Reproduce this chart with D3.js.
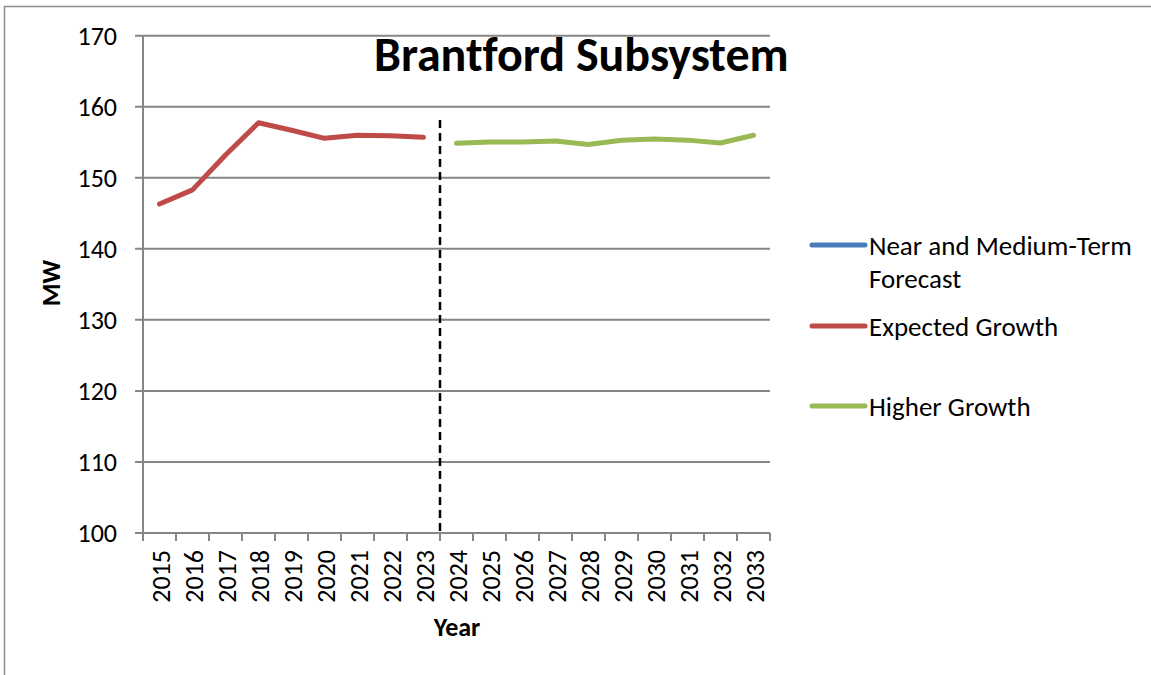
<!DOCTYPE html>
<html>
<head>
<meta charset="utf-8">
<script src="https://cdn.jsdelivr.net/npm/d3@7"></script>
<style>
  body { margin: 0; background: #fff; }
  svg { display: block; font-family: Carlito, Lato, "Open Sans", sans-serif; font-variant-ligatures: none; }
</style>
</head>
<body>
<script>
const years = [2015, 2016, 2017, 2018, 2019, 2020, 2021, 2022, 2023, 2024,
  2025, 2026, 2027, 2028, 2029, 2030, 2031, 2032, 2033];
const expectedYears = [2015, 2016, 2017, 2018, 2019, 2020, 2021, 2022, 2023];
const expectedValues = [146.3, 148.3, 153.2, 157.75, 156.7, 155.55, 156.0, 155.9, 155.7];
const higherYears = [2024, 2025, 2026, 2027, 2028, 2029, 2030, 2031, 2032, 2033];
const higherValues = [154.85, 155.04, 155.05, 155.18, 154.7, 155.27, 155.45, 155.3, 154.9, 155.98];
const yTicks = [100, 110, 120, 130, 140, 150, 160, 170];
const legendItems = [
  { label: ["Near and Medium-Term", "Forecast"], color: "#4a7ebb" },
  { label: ["Expected Growth"], color: "#be4b48" },
  { label: ["Higher Growth"], color: "#98b954" }
];

const W = 1151, H = 675;
const margin = { left: 143, right: 770, top: 35.7, bottom: 533 };
const GRID = "#868686";
const FS = 26;

const svg = d3.select("body").append("svg").attr("width", W).attr("height", H);

// outer frame (only top + left edges visible)
svg.append("path")
  .attr("d", `M4.5,${H} V6.5 H${W}`)
  .attr("fill", "none").attr("stroke", "#8c8c8c").attr("stroke-width", 1.5);

const x = d3.scaleBand().domain(years).range([margin.left, margin.right]);
const y = d3.scaleLinear().domain([100, 170]).range([margin.bottom, margin.top]);
const cx = (d) => x(d) + x.bandwidth() / 2;

// gridlines
svg.append("g").selectAll("line").data(yTicks).join("line")
  .attr("x1", margin.left - 8).attr("x2", margin.right)
  .attr("y1", (d) => y(d)).attr("y2", (d) => y(d))
  .attr("stroke", GRID).attr("stroke-width", 2);

// y axis line
svg.append("line")
  .attr("x1", margin.left).attr("x2", margin.left)
  .attr("y1", margin.top).attr("y2", margin.bottom)
  .attr("stroke", GRID).attr("stroke-width", 2);

// x ticks at category boundaries
const bounds = years.map((d) => x(d)).concat([margin.right]);
svg.append("g").selectAll("line").data(bounds).join("line")
  .attr("x1", (d) => d).attr("x2", (d) => d)
  .attr("y1", margin.bottom).attr("y2", margin.bottom + 8)
  .attr("stroke", GRID).attr("stroke-width", 2);

// y tick labels
svg.append("g").selectAll("text").data(yTicks).join("text")
  .attr("x", 117).attr("y", (d) => y(d))
  .attr("text-anchor", "end").attr("dominant-baseline", "central")
  .attr("font-size", FS).attr("fill", "#000")
  .text((d) => d);

// x tick labels (rotated)
svg.append("g").selectAll("text").data(years).join("text")
  .attr("transform", (d) => `translate(${cx(d) + 1},550) rotate(-90)`)
  .attr("text-anchor", "end").attr("dominant-baseline", "central")
  .attr("font-size", FS).attr("fill", "#000")
  .text((d) => d);

// axis titles
svg.append("text")
  .attr("x", 457).attr("y", 636)
  .attr("text-anchor", "middle").attr("font-weight", "bold").attr("font-size", FS)
  .text("Year");
svg.append("text")
  .attr("transform", "translate(60,283) rotate(-90)")
  .attr("text-anchor", "middle")
  .attr("font-weight", "bold").attr("font-size", FS)
  .text("MW");

// divider between history-based and later forecast
svg.append("line")
  .attr("x1", x(2024)).attr("x2", x(2024))
  .attr("y1", 120).attr("y2", margin.bottom)
  .attr("stroke", "#000").attr("stroke-width", 2.5)
  .attr("stroke-dasharray", "8,5");

const line = d3.line().x((d) => cx(d[0])).y((d) => y(d[1]));

svg.append("path")
  .datum(d3.zip(expectedYears, expectedValues))
  .attr("d", line).attr("fill", "none")
  .attr("stroke", legendItems[1].color).attr("stroke-width", 5)
  .attr("stroke-linecap", "round").attr("stroke-linejoin", "round");

svg.append("path")
  .datum(d3.zip(higherYears, higherValues))
  .attr("d", line).attr("fill", "none")
  .attr("stroke", legendItems[2].color).attr("stroke-width", 5)
  .attr("stroke-linecap", "round").attr("stroke-linejoin", "round");

// title
svg.append("text")
  .attr("x", 374).attr("y", 71)
  .attr("font-weight", "bold").attr("font-size", 48)
  .text("Brantford Subsystem");

// legend
const legendY = [245, 326, 406];
const lg = svg.append("g").selectAll("g").data(legendItems).join("g")
  .attr("transform", (d, i) => `translate(0,${legendY[i]})`);
lg.append("line")
  .attr("x1", 812).attr("x2", 865)
  .attr("stroke", (d) => d.color).attr("stroke-width", 5)
  .attr("stroke-linecap", "round");
lg.append("text")
  .attr("x", 869).attr("font-size", 27).attr("dominant-baseline", "central")
  .selectAll("tspan").data((d) => d.label).join("tspan")
  .attr("x", 869).attr("dy", (d, i) => (i === 0 ? 0 : 33))
  .text((d) => d);
</script>
</body>
</html>
